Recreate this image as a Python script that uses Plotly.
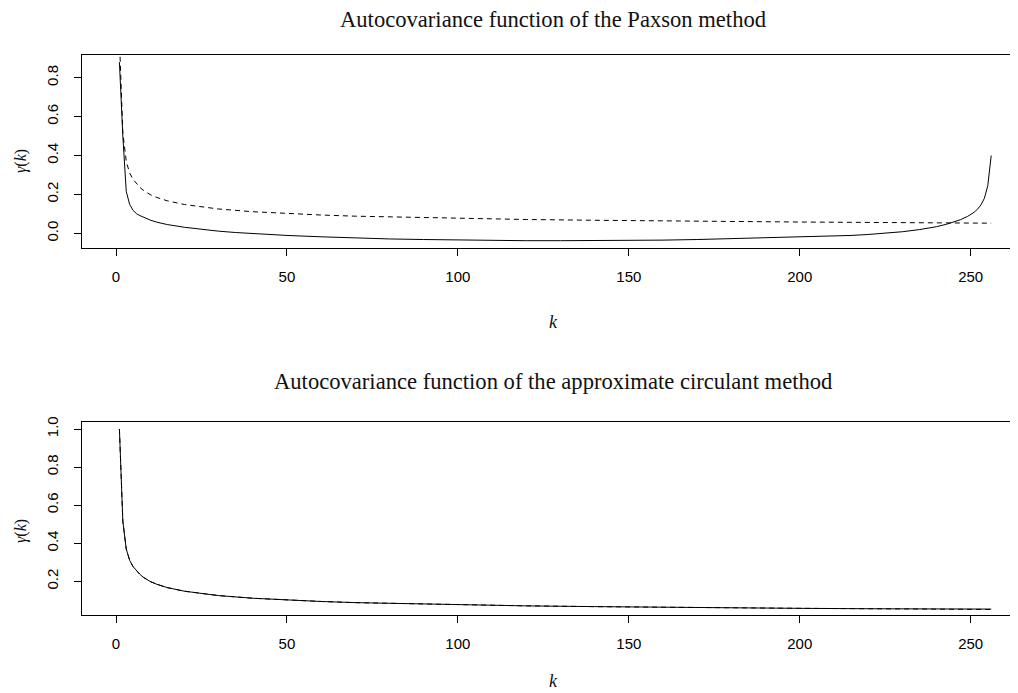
import plotly.graph_objects as go

# ---- data ----
# index k (1..256) of the plotted autocovariance
k_paxson = [1, 2, 3, 4, 5, 6, 7, 8, 9, 10, 12, 15, 20, 25, 30, 35, 40, 50, 60, 70,
            80, 90, 100, 110, 120, 130, 140, 150, 160, 170, 180, 190, 200, 210,
            215, 220, 225, 230, 235, 240, 243, 245, 247, 249, 250, 251, 252, 253,
            254, 255, 256]
gamma_paxson = [0.880, 0.500, 0.215, 0.148, 0.118, 0.101, 0.091, 0.083, 0.075, 0.068,
                0.057, 0.045, 0.031, 0.020, 0.011, 0.004, -0.002, -0.011, -0.018,
                -0.024, -0.029, -0.032, -0.035, -0.037, -0.038, -0.038, -0.038,
                -0.037, -0.035, -0.032, -0.028, -0.024, -0.019, -0.014, -0.011,
                -0.006, 0.000, 0.008, 0.019, 0.034, 0.047, 0.057, 0.070, 0.086,
                0.096, 0.108, 0.124, 0.146, 0.180, 0.245, 0.400]

k_true = [1, 2, 3, 4, 5, 6, 7, 8, 9, 10, 12, 15, 20, 25, 30, 40, 50, 60, 70, 80,
          90, 100, 120, 140, 160, 180, 200, 220, 240, 256]
gamma_true = [1.000, 0.516, 0.369, 0.310, 0.277, 0.255, 0.236, 0.221, 0.209, 0.199,
              0.184, 0.167, 0.148, 0.135, 0.125, 0.111, 0.101, 0.094, 0.088, 0.084,
              0.080, 0.076, 0.071, 0.067, 0.063, 0.060, 0.058, 0.056, 0.054, 0.052]

k_circ = [1, 2, 3, 4, 5, 6, 7, 8, 9, 10, 12, 15, 20, 25, 30, 40, 50, 60, 70, 80,
          90, 100, 120, 140, 160, 180, 200, 220, 240, 250, 256]
gamma_circ = [1.000, 0.516, 0.369, 0.310, 0.277, 0.255, 0.236, 0.221, 0.209, 0.199,
              0.184, 0.167, 0.148, 0.135, 0.125, 0.111, 0.101, 0.094, 0.088, 0.084,
              0.080, 0.076, 0.071, 0.067, 0.063, 0.061, 0.058, 0.056, 0.055, 0.054,
              0.054]

x_ticks = [0, 50, 100, 150, 200, 250]
y_ticks_top = [0.0, 0.2, 0.4, 0.6, 0.8]
y_ticks_bottom = [0.2, 0.4, 0.6, 0.8, 1.0]

title_top = "Autocovariance function of the Paxson method"
title_bottom = "Autocovariance function of the approximate circulant method"

# ---- layout geometry (page pixels; the page body has an 8px margin) ----
OFF = 8
W, H = 1018 - OFF, 693 - OFF


def fx(p):  # page x pixel -> paper fraction
    return (p - OFF) / W


def fy(p):  # page y pixel -> paper fraction
    return 1 - (p - OFF) / H


left_px = 81.7
top1, bot1 = 55.0, 248.3
top2, bot2 = 422.3, 615.0
px_per_k = 3.4188
x0 = -(116.0 - left_px) / px_per_k
x1 = x0 + (1018 - left_px) / px_per_k

fig = go.Figure()
line_solid = dict(color="black", width=1)
line_dash = dict(color="black", width=1, dash="5px,4px")

fig.add_trace(go.Scatter(x=k_paxson, y=gamma_paxson, mode="lines", line=line_solid,
                         xaxis="x", yaxis="y"))
fig.add_trace(go.Scatter(x=k_true, y=gamma_true, mode="lines", line=line_dash,
                         xaxis="x", yaxis="y"))
fig.add_trace(go.Scatter(x=k_circ, y=gamma_circ, mode="lines", line=line_solid,
                         xaxis="x2", yaxis="y2"))
fig.add_trace(go.Scatter(x=k_true, y=gamma_true, mode="lines", line=line_dash,
                         xaxis="x2", yaxis="y2"))

tick_font = dict(family="Liberation Sans, Arial, sans-serif", size=15, color="black")
xaxis_common = dict(
    range=[x0, x1], tickvals=x_ticks, ticks="outside", ticklen=7, tickwidth=1,
    tickcolor="black", showline=True, linecolor="black", linewidth=1, mirror=True,
    showgrid=False, zeroline=False, tickfont=tick_font, automargin=False,
    ticklabelstandoff=8, domain=[fx(left_px), 1.0],
)
yaxis_common = dict(
    ticks="outside", ticklen=7, tickwidth=1, tickcolor="black", showline=True,
    linecolor="black", linewidth=1, mirror=False, showgrid=False, zeroline=False,
    tickfont=tick_font, tickangle=-90, automargin=False, tickformat=".1f",
    ticklabelstandoff=10,
)

# y ranges from the pixel positions of the ticks
y_top_range = [-(bot1 - 233.3) / 194.5, 0.8 + (77.7 - top1) / 194.5]
y_bot_range = [0.2 - (bot2 - 581.3) / 190.4, 1.0 + (429.0 - top2) / 190.4]

fig.update_layout(
    width=W, height=H,
    margin=dict(l=0, r=0, t=0, b=0),
    paper_bgcolor="white", plot_bgcolor="white",
    showlegend=False,
    xaxis=dict(xaxis_common, anchor="y"),
    yaxis=dict(yaxis_common, range=y_top_range, tickvals=y_ticks_top,
               domain=[fy(bot1), fy(top1)], anchor="x"),
    xaxis2=dict(xaxis_common, anchor="y2"),
    yaxis2=dict(yaxis_common, range=y_bot_range, tickvals=y_ticks_bottom,
                domain=[fy(bot2), fy(top2)], anchor="x2"),
)

serif = "Liberation Serif, Times New Roman, serif"
cx = fx((left_px + 1026) / 2)
ann = [
    dict(text=title_top, x=cx, y=fy(20), font=dict(family=serif, size=22.6)),
    dict(text=title_bottom, x=cx, y=fy(382), font=dict(family=serif, size=22.6)),
    dict(text="<i>k</i>", x=fx(553), y=fy(322), font=dict(family=serif, size=18)),
    dict(text="<i>k</i>", x=fx(553), y=fy(681), font=dict(family=serif, size=18)),
    dict(text="<i>γ</i>(<i>k</i>)", x=fx(21), y=fy(161), textangle=-90,
         font=dict(family=serif, size=16)),
    dict(text="<i>γ</i>(<i>k</i>)", x=fx(21), y=fy(531), textangle=-90,
         font=dict(family=serif, size=16)),
]
for a in ann:
    a.update(xref="paper", yref="paper", showarrow=False, xanchor="center",
             yanchor="middle")
    a["font"]["color"] = "#111"
fig.update_layout(annotations=ann)

fig.write_html("out.html")
